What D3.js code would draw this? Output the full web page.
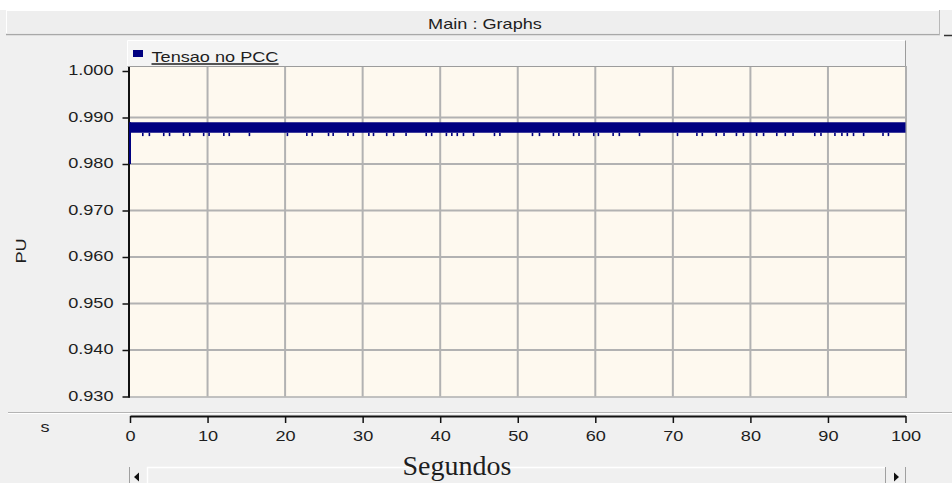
<!DOCTYPE html>
<html>
<head>
<meta charset="utf-8">
<script src="https://cdn.jsdelivr.net/npm/d3@7"></script>
<style>
  html, body { margin: 0; padding: 0; background: #f0f0f0; }
  svg { display: block; }
  text { font-family: "Liberation Sans", Arial, sans-serif; fill: #1e1e1e; }
</style>
</head>
<body>
<svg id="chart" width="952" height="483"></svg>
<script>
// ---- texts ----
const windowTitle = "Main : Graphs";
const seriesName = "Tensao no PCC";
const yAxisLabel = "PU";
const xAxisLabel = "Segundos";
const xUnitLabel = "s";

// ---- axis ticks ----
const xTickValues = [0, 10, 20, 30, 40, 50, 60, 70, 80, 90, 100];
const yTickValues = [0.930, 0.940, 0.950, 0.960, 0.970, 0.980, 0.990, 1.000];

// ---- series: voltage at the PCC (pu) ----
// initial rise at t = 0
const startTime = [0, 0];
const startValue = [0.980, 0.9890];
// steady-state oscillation envelope
const envelopeTime = [0, 100];
const envelopeHigh = [0.9890, 0.9890];
const envelopeLow = [0.9867, 0.9867];
// short dips below the envelope (s)
const dipTimes = [
  1.65, 2.5, 4.35, 5.1, 6.9, 7.7, 9.5, 10.2, 12.1, 12.8, 15.4, 20.3, 22.8, 23.5,
  25.6, 26.2, 28.1, 28.8, 30.8, 31.4, 33.1, 34.0, 35.6, 38.2, 38.9, 40.8, 41.5,
  42.2, 43.0, 44.3, 47.0, 47.7,
  51.9, 52.8, 54.6, 55.3, 57.2, 57.9, 59.8, 60.4, 62.3, 63.1, 65.7, 70.6, 73.1, 73.8,
  75.6, 76.6, 78.2, 79.1, 80.8, 81.7, 83.4, 84.5, 85.5, 88.3, 89.1, 90.9, 91.8,
  92.5, 93.3, 94.6, 97.1, 97.8
];
const dipValue = 0.9860;

const NAVY = "#000080";
const FONT = 14.5;
const SX = 1.25;   // wide UI font

const svg = d3.select("#chart");

// stretched label helper
function label(g, x, y, txt, anchor, size, rotate) {
  const t = g.append("text")
    .attr("transform", `translate(${x},${y})` + (rotate ? ` rotate(${rotate})` : "") + ` scale(${SX},1)`)
    .attr("text-anchor", anchor || "start")
    .style("font-size", (size || FONT) + "px")
    .text(txt);
  return t;
}

// ---- window chrome ----
svg.append("rect").attr("x", 0).attr("y", 0).attr("width", 952).attr("height", 10).attr("fill", "#ffffff");
svg.append("rect").attr("x", 6.5).attr("y", 10.5).attr("width", 933).attr("height", 23)
  .attr("fill", "#eeeeee").attr("stroke", "#ffffff");
svg.append("line").attr("x1", 6).attr("x2", 940).attr("y1", 34.5).attr("y2", 34.5)
  .attr("stroke", "#a8a8a8").attr("stroke-width", 1.5);
svg.append("line").attr("x1", 939.5).attr("x2", 939.5).attr("y1", 10).attr("y2", 35)
  .attr("stroke", "#b8b8b8");
svg.append("line").attr("x1", 944).attr("x2", 952).attr("y1", 35.5).attr("y2", 35.5)
  .attr("stroke", "#333").attr("stroke-width", 1.5);
label(svg, 485, 29, windowTitle, "middle");

// ---- scales ----
const x = d3.scaleLinear().domain([0, 100]).range([130, 905.5]);
const y = d3.scaleLinear().domain([0.93, 1.0]).range([396.5, 71]);

// ---- plot background ----
const plotTop = 67, plotBottom = 396.5;
svg.append("rect").attr("x", x(0)).attr("y", plotTop)
  .attr("width", x(100) - x(0)).attr("height", plotBottom - plotTop)
  .attr("fill", "#fef9ef");

// grid
const grid = svg.append("g").attr("stroke", "#b2b2b2").attr("stroke-width", 2);
grid.selectAll("line.v").data(xTickValues.filter(d => d > 0 && d < 100)).join("line")
  .attr("class", "v")
  .attr("x1", d => x(d)).attr("x2", d => x(d))
  .attr("y1", plotTop).attr("y2", plotBottom);
grid.selectAll("line.h").data(yTickValues.filter(d => d > 0.93 && d < 1.0)).join("line")
  .attr("class", "h")
  .attr("x1", x(0)).attr("x2", x(100))
  .attr("y1", d => y(d)).attr("y2", d => y(d));

// frame shadow (right / bottom)
svg.append("line").attr("x1", x(100) + 0.5).attr("x2", x(100) + 0.5)
  .attr("y1", 66).attr("y2", plotBottom + 1.5)
  .attr("stroke", "#b0b0b0").attr("stroke-width", 2);
svg.append("line").attr("x1", x(0)).attr("x2", x(100) + 1.5)
  .attr("y1", plotBottom + 0.5).attr("y2", plotBottom + 0.5)
  .attr("stroke", "#b0b0b0").attr("stroke-width", 1.5);

// ---- legend bar ----
const leg = svg.append("g");
leg.append("rect").attr("x", 127.5).attr("y", 40.5).attr("width", 778).attr("height", 26)
  .attr("fill", "#f4f4f4");
leg.append("path").attr("d", "M127.5,66.5V40.5H905.5").attr("fill", "none").attr("stroke", "#ffffff");
leg.append("path").attr("d", "M905.5,40.5V66.5H127.5").attr("fill", "none").attr("stroke", "#9c9c9c");
leg.append("rect").attr("x", 133).attr("y", 50).attr("width", 10).attr("height", 7).attr("fill", NAVY);
const legText = label(leg, 151.5, 61.5, seriesName, "start");
const lw = legText.node().getBBox().width * SX;
leg.append("line").attr("x1", 151.5).attr("x2", 151.5 + lw).attr("y1", 64).attr("y2", 64)
  .attr("stroke", "#1e1e1e").attr("stroke-width", 1.3);

// ---- y axis ----
const yAxis = d3.axisLeft(y).tickValues(yTickValues).tickFormat(d3.format(".3f"))
  .tickSize(7.5).tickSizeOuter(0).tickPadding(5.7);
const yg = svg.append("g").attr("transform", `translate(${x(0)},0)`).call(yAxis);
yg.select(".domain").remove();
yg.selectAll(".tick line").attr("stroke", "#111").attr("stroke-width", 1.5);
yg.selectAll(".tick text")
  .attr("transform", `scale(${SX},1)`)
  .attr("dy", "0.25em")
  .style("font-size", FONT + "px").style("font-family", "'Liberation Sans', Arial, sans-serif")
  .attr("fill", "#1e1e1e");
svg.append("line").attr("x1", x(0) - 1).attr("x2", x(0) - 1)
  .attr("y1", plotTop).attr("y2", plotBottom + 1)
  .attr("stroke", "#111").attr("stroke-width", 2);

label(svg, 26, 251, yAxisLabel, "middle", FONT, -90);

// ---- series ----
const area = d3.area()
  .x((d, i) => x(envelopeTime[i]))
  .y0((d, i) => y(envelopeLow[i]))
  .y1((d, i) => y(envelopeHigh[i]));
svg.append("path").datum(envelopeTime).attr("d", area).attr("fill", NAVY);

const startLine = d3.line().x((d, i) => x(startTime[i])).y((d, i) => y(startValue[i]));
svg.append("path").datum(startTime).attr("d", startLine)
  .attr("fill", "none").attr("stroke", NAVY).attr("stroke-width", 2);

svg.append("g").selectAll("line").data(dipTimes).join("line")
  .attr("x1", d => x(d)).attr("x2", d => x(d))
  .attr("y1", y(envelopeLow[0])).attr("y2", y(dipValue))
  .attr("stroke", NAVY).attr("stroke-width", 1.6);

// ---- x axis ----
svg.append("line").attr("x1", 8).attr("x2", 952).attr("y1", 412.5).attr("y2", 412.5)
  .attr("stroke", "#b4b4b4");
svg.append("line").attr("x1", 8).attr("x2", 952).attr("y1", 413.5).attr("y2", 413.5)
  .attr("stroke", "#ffffff");

const xAxis = d3.axisBottom(x).tickValues(xTickValues).tickFormat(d3.format("d"))
  .tickSize(7).tickSizeOuter(0).tickPadding(7.7);
const xg = svg.append("g").attr("transform", "translate(0,416)").call(xAxis);
xg.select(".domain").attr("stroke", "#111").attr("stroke-width", 2);
xg.selectAll(".tick line").attr("stroke", "#111").attr("stroke-width", 1.5);
xg.selectAll(".tick text")
  .attr("transform", `scale(${SX},1)`)
  .style("font-size", FONT + "px").style("font-family", "'Liberation Sans', Arial, sans-serif")
  .attr("fill", "#1e1e1e");

label(svg, 45, 432, xUnitLabel, "middle");

// ---- scrollbar ----
const sb = svg.append("g");
sb.append("rect").attr("x", x(0)).attr("y", 467).attr("width", x(100) - x(0)).attr("height", 20)
  .attr("fill", "#f0f0f0");
sb.append("line").attr("x1", 147).attr("x2", 885).attr("y1", 467.5).attr("y2", 467.5)
  .attr("stroke", "#ffffff").attr("stroke-width", 1.5);
sb.append("line").attr("x1", x(0) - 0.5).attr("x2", x(0) - 0.5).attr("y1", 467).attr("y2", 483)
  .attr("stroke", "#a0a0a0");
sb.append("line").attr("x1", 147.5).attr("x2", 147.5).attr("y1", 467).attr("y2", 483)
  .attr("stroke", "#ffffff").attr("stroke-width", 1.5);
sb.append("line").attr("x1", 885.5).attr("x2", 885.5).attr("y1", 467).attr("y2", 483)
  .attr("stroke", "#a0a0a0");
sb.append("line").attr("x1", x(100)).attr("x2", x(100)).attr("y1", 467).attr("y2", 483)
  .attr("stroke", "#a0a0a0");
sb.append("path").attr("d", "M134,477L139,472.5V481.5Z").attr("fill", "#111");
sb.append("path").attr("d", "M899,477L894,472.5V481.5Z").attr("fill", "#111");

svg.append("text")
  .attr("x", 457).attr("y", 475)
  .attr("text-anchor", "middle")
  .style("font-family", "'Liberation Serif', 'Times New Roman', serif")
  .style("font-size", "28px")
  .text(xAxisLabel);
</script>
</body>
</html>
